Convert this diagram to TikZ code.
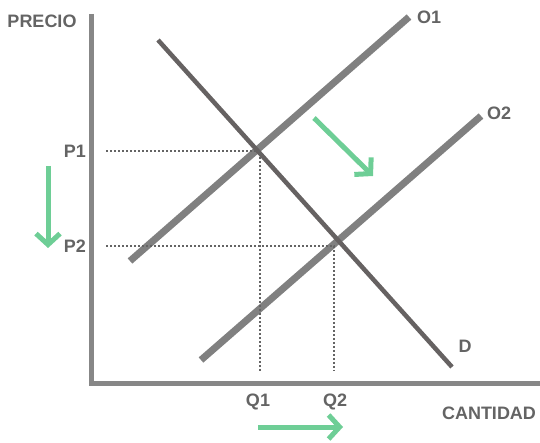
\documentclass[tikz,border=0pt]{standalone}
\usepackage{fontspec}
\setmainfont{Liberation Sans}
\usetikzlibrary{arrows.meta}
\definecolor{axisgray}{RGB}{135,135,135}
\definecolor{linegray}{RGB}{128,128,128}
\definecolor{demgray}{RGB}{102,98,98}
\definecolor{txtgray}{RGB}{100,100,100}
\definecolor{movegreen}{RGB}{110,206,150}

\begin{document}
\begin{tikzpicture}[x=1pt,y=-1pt,
    lbl/.style={text=txtgray, font=\fontsize{18}{18}\selectfont\bfseries, inner sep=0pt},
    axisline/.style={axisgray, line width=5pt},
    supply/.style={linegray, line width=7pt},
    demand/.style={demgray, line width=4.5pt},
    guide/.style={txtgray, line width=1.8pt, dash pattern=on 1.8pt off 2.2pt},
    movearrow/.style={movegreen, line width=5pt, -{Straight Barb[length=11pt,width=24pt]}}]
    \path[use as bounding box] (0,0) rectangle (540,443);
    % axes
    \coordinate (top) at (91,14);
    \coordinate (origin) at (91,383);
    \coordinate (right) at (540,383);
    \draw[axisline] (top) -- (origin) -- (right);
    % curves
    \coordinate (d1) at (158,40);
    \coordinate (d2) at (452,367);
    \coordinate (oa1) at (130,261);
    \coordinate (oa2) at (409,17);
    \coordinate (ob1) at (201,360);
    \coordinate (ob2) at (481,116);
    \draw[supply] (oa1) -- (oa2);
    \draw[supply] (ob1) -- (ob2);
    \draw[demand] (d1) -- (d2);
    % labels
    \node[lbl] (precio) at (42,21) {PRECIO};
    \node[lbl] (cantidad) at (489,413) {CANTIDAD};
    \node[lbl, anchor=west] (o1) at (417,17) {O1};
    \node[lbl, anchor=west] (o2) at (487,113) {O2};
    \node[lbl] (dlab) at (465,346) {D};
    \node[lbl, anchor=east] (p1) at (86,151) {P1};
    \node[lbl, anchor=east] (p2) at (86,246) {P2};
    \node[lbl] (q1) at (258,402) {Q1};
    \node[lbl] (q2) at (335,402) {Q2};
    % dotted guides
    \coordinate (e1) at (260,151);
    \coordinate (e2) at (334,246);
    \coordinate (gleft) at (106,0);
    \coordinate (gbot) at (0,371);
    \draw[guide] (gleft |- e1) -- (e1) -- (e1 |- gbot);
    \draw[guide] (gleft |- e2) -- (e2) -- (e2 |- gbot);
    % shifts
    \coordinate (ps) at (48,166);
    \coordinate (pe) at (48,248);
    \coordinate (qs) at (258,427);
    \coordinate (qe) at (343,427);
    \coordinate (os) at (314,118);
    \coordinate (oe) at (373,176);
    \draw[movearrow] (ps) -- (pe);
    \draw[movearrow] (qs) -- (qe);
    \draw[movearrow] (os) -- (oe);
\end{tikzpicture}
\end{document}
